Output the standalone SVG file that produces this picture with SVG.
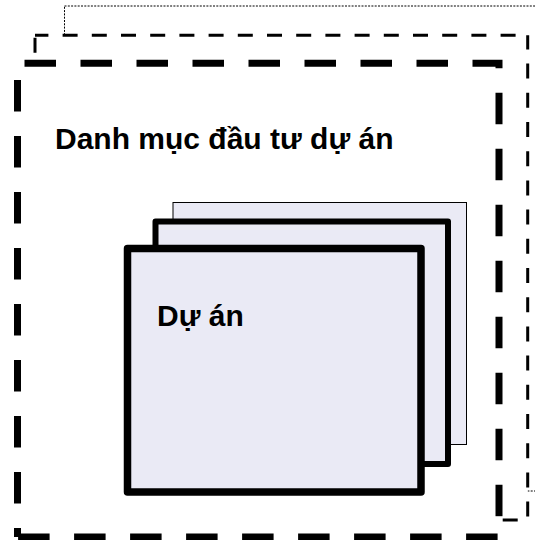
<svg xmlns="http://www.w3.org/2000/svg" width="535" height="540" viewBox="0 0 535 540">
<style>
.bg{fill:#ffffff}
.dotted{fill:#ffffff;stroke:#000000;stroke-width:1;stroke-dasharray:2 1.3}
.mid{fill:none;stroke:#000000;stroke-width:3;stroke-dasharray:15 14.2}
.front{fill:none;stroke:#000000;stroke-width:7;stroke-dasharray:31.5 24.5}
.page{fill:#EAEAF5;stroke:#000000}
.lbl{font-family:"Liberation Sans",Arial,sans-serif;font-weight:bold;font-size:30px;fill:#000000}
</style>
<rect class="bg" x="0" y="0" width="535" height="540"/>
<g id="portfolio-back">
<rect class="dotted" x="64.5" y="6" width="480" height="485"/>
</g>
<g id="portfolio-middle">
<rect x="35" y="35.3" width="492.7" height="484.7" fill="#ffffff"/>
<path class="mid" d="M35,35.3 H527.7" stroke-dashoffset="1.6"/>
<path class="mid" d="M527.7,35.3 V520" stroke-dashoffset="0.9"/>
<path class="mid" d="M527.7,520 H35" stroke-dashoffset="19.2"/>
<path class="mid" d="M35,520 V35.3" stroke-dashoffset="0"/>
</g>
<g id="portfolio">
<rect x="17.5" y="63.3" width="481.5" height="473.7" fill="#ffffff"/>
<path class="front" d="M17.5,63.3 H499 V68.8" stroke-dashoffset="49"/>
<path class="front" d="M499,68.8 V537" stroke-dashoffset="32.1"/>
<path class="front" d="M499,537 H17.5" stroke-dashoffset="54.6"/>
<path class="front" d="M17.5,537 V63.3" stroke-dashoffset="22.5"/>
<text class="lbl" x="55" y="149">Danh mục đầu tư dự án</text>
</g>
<g id="project-3">
<rect class="page" x="173" y="202.5" width="293.5" height="242" stroke-width="1"/>
</g>
<g id="project-2">
<rect class="page" x="155.5" y="221.5" width="292.5" height="242.5" stroke-width="6" stroke-linejoin="round"/>
</g>
<g id="project-1">
<rect class="page" x="127.5" y="248.5" width="293.5" height="243.5" stroke-width="7.5" stroke-linejoin="round"/>
<text class="lbl" x="157" y="326">Dự án</text>
</g>
</svg>
